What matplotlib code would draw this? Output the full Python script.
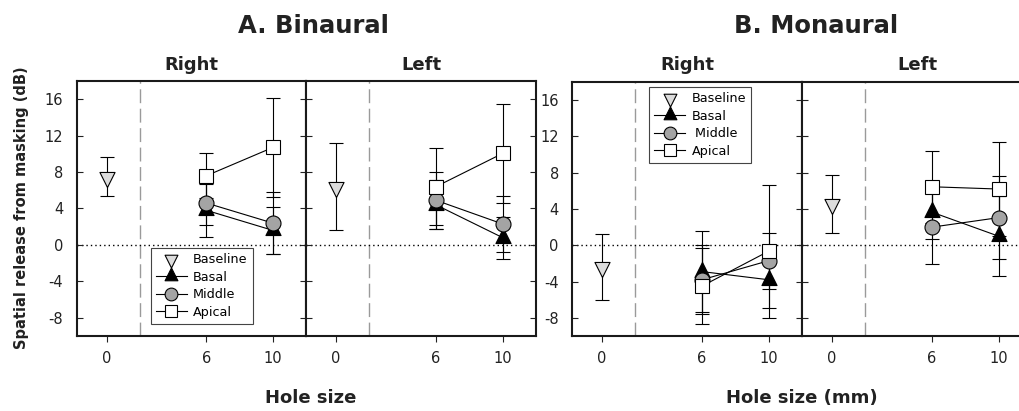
import matplotlib
matplotlib.use("Agg")
import matplotlib.pyplot as plt
from matplotlib.path import Path
from matplotlib.lines import Line2D

plt.rcParams["axes.unicode_minus"] = False

# ---------------- data ----------------
hole_sizes = [6, 10]
baseline_x = [0]
xtick_vals = [0, 6, 10]
ytick_vals = [-8, -4, 0, 4, 8, 12, 16]

series_names = ["Baseline", "Basal", "Middle", "Apical"]

# Binaural, right
binR_baseline = [7.5];  binR_baseline_err = [2.1]
binR_basal = [3.8, 1.6];   binR_basal_err = [2.9, 2.6]
binR_middle = [4.6, 2.4];  binR_middle_err = [2.4, 3.4]
binR_apical = [7.6, 10.7]; binR_apical_err = [2.45, 5.4]

# Binaural, left
binL_baseline = [6.4];  binL_baseline_err = [4.75]
binL_basal = [4.4, 0.8];    binL_basal_err = [2.7, 2.3]
binL_middle = [4.9, 2.3];   binL_middle_err = [3.1, 3.1]
binL_apical = [6.4, 10.05]; binL_apical_err = [4.2, 5.4]

# Monaural, right
monR_baseline = [-2.4]; monR_baseline_err = [3.6]
monR_basal = [-2.9, -3.8];  monR_basal_err = [4.45, 3.15]
monR_middle = [-3.8, -1.7]; monR_middle_err = [3.8, 3.1]
monR_apical = [-4.5, -0.65]; monR_apical_err = [4.2, 7.35]

# Monaural, left
monL_baseline = [4.5];  monL_baseline_err = [3.2]
monL_basal = [3.65, 1.0];  monL_basal_err = [3.0, 4.4]
monL_middle = [2.0, 3.05]; monL_middle_err = [4.1, 4.6]
monL_apical = [6.45, 6.2]; monL_apical_err = [3.95, 5.2]

# ---------------- styles ----------------
W, H = 1019, 411
fig = plt.figure(figsize=(W / 100, H / 100), dpi=100)

tri_up = Path([(0, 4/3), (-1, -2/3), (1, -2/3), (0, 4/3)])
tri_dn = Path([(0, -4/3), (-1, 2/3), (1, 2/3), (0, -4/3)])

styles = {
    "Baseline": dict(marker=tri_dn, ms=14.5, mfc="#dcdcdc"),
    "Basal": dict(marker=tri_up, ms=14.5, mfc="black"),
    "Middle": dict(marker="o", ms=10.8, mfc="#a4a4a4"),
    "Apical": dict(marker="s", ms=10.3, mfc="white"),
}

def px_axes(x0, x1, y0, y1):
    return fig.add_axes([x0 / W, 1 - y1 / H, (x1 - x0) / W, (y1 - y0) / H])

def draw_panel(ax, base, base_err, basal, basal_err, middle, middle_err,
               apical, apical_err, show_ylabels=True, label_pad=10):
    ax.set_xlim(-1.8, 12)
    ax.set_ylim(-10, 18)
    ax.axvline(2, color="#9a9a9a", lw=1.0, ls=(0, (10, 4)), zorder=1)
    ax.axhline(0, color="black", lw=1.0, ls=(0, (1, 2.2)), zorder=1)
    eb = dict(ecolor="black", elinewidth=0.8, capsize=5, capthick=0.8,
              mec="black", mew=0.8)
    s = styles["Baseline"]
    ax.errorbar(baseline_x, base, yerr=base_err, ls="none", marker=s["marker"],
                ms=s["ms"], mfc=s["mfc"], zorder=3, **eb)
    for name, vals, errs in (("Basal", basal, basal_err),
                             ("Middle", middle, middle_err),
                             ("Apical", apical, apical_err)):
        s = styles[name]
        ax.errorbar(hole_sizes, vals, yerr=errs, ls="-", color="black", lw=0.8,
                    marker=s["marker"], ms=s["ms"], mfc=s["mfc"], zorder=3, **eb)
    ax.set_xticks(xtick_vals)
    ax.set_yticks(ytick_vals)
    ax.tick_params(axis="x", direction="out", length=4, width=0.8, pad=7,
                   labelsize=10.5, colors="#222222")
    ax.tick_params(axis="y", direction="in", left=True, right=True, length=4,
                   width=0.8, labelsize=10.5, colors="#222222",
                   labelleft=show_ylabels, labelright=False, pad=label_pad)
    for sp in ax.spines.values():
        sp.set_linewidth(1.5)
        sp.set_color("#1a1a1a")

def add_legend(ax, anchor, labels):
    handles = []
    for name in series_names:
        s = styles[name]
        handles.append(Line2D([], [], color="black", lw=0.8,
                              ls="none" if name == "Baseline" else "-",
                              marker=s["marker"], ms=s["ms"], mfc=s["mfc"],
                              mec="black", mew=0.8))
    leg = ax.legend(handles, labels, loc="upper left", bbox_to_anchor=anchor,
                    frameon=True, fancybox=False, framealpha=1,
                    edgecolor="#444444", fontsize=9.2, markerscale=0.85,
                    handlelength=2.4, handletextpad=0.5, labelspacing=0.35,
                    borderpad=0.4, borderaxespad=0)
    leg.get_frame().set_linewidth(0.8)
    leg.set_zorder(5)

axAR = px_axes(77, 306, 81, 336)
axAL = px_axes(306, 536, 81, 336)
axBR = px_axes(572, 802, 82, 336)
axBL = px_axes(802, 1032, 82, 336)

draw_panel(axAR, binR_baseline, binR_baseline_err, binR_basal, binR_basal_err,
           binR_middle, binR_middle_err, binR_apical, binR_apical_err, label_pad=10)
draw_panel(axAL, binL_baseline, binL_baseline_err, binL_basal, binL_basal_err,
           binL_middle, binL_middle_err, binL_apical, binL_apical_err,
           show_ylabels=False)
draw_panel(axBR, monR_baseline, monR_baseline_err, monR_basal, monR_basal_err,
           monR_middle, monR_middle_err, monR_apical, monR_apical_err, label_pad=9.5)
draw_panel(axBL, monL_baseline, monL_baseline_err, monL_basal, monL_basal_err,
           monL_middle, monL_middle_err, monL_apical, monL_apical_err,
           show_ylabels=False)

add_legend(axAR, (0.323, 0.345), series_names)
add_legend(axBR, (0.336, 0.98), ["Baseline", "Basal", " Middle", "Apical"])

def ftext(x, y, s, **kw):
    fig.text(x / W, 1 - y / H, s, **kw)

ftext(313, 33, "A. Binaural", ha="center", va="baseline", fontsize=17.5,
      fontweight="bold", color="#222222")
ftext(816, 33, "B. Monaural", ha="center", va="baseline", fontsize=17.5,
      fontweight="bold", color="#222222")
for cx, label in ((191.5, "Right"), (421, "Left"), (687, "Right"), (917, "Left")):
    ftext(cx, 70, label, ha="center", va="baseline", fontsize=13,
          fontweight="bold", color="#222222")
ftext(310.5, 403, "Hole size", ha="center", va="baseline", fontsize=13,
      fontweight="bold", color="#222222")
ftext(802, 403, "Hole size (mm)", ha="center", va="baseline", fontsize=13,
      fontweight="bold", color="#222222")
ftext(22, 207.5, "Spatial release from masking (dB)", ha="center", va="center",
      rotation=90, fontsize=10.5, fontweight="bold", color="#222222")

fig.savefig("out.png", dpi=100)
